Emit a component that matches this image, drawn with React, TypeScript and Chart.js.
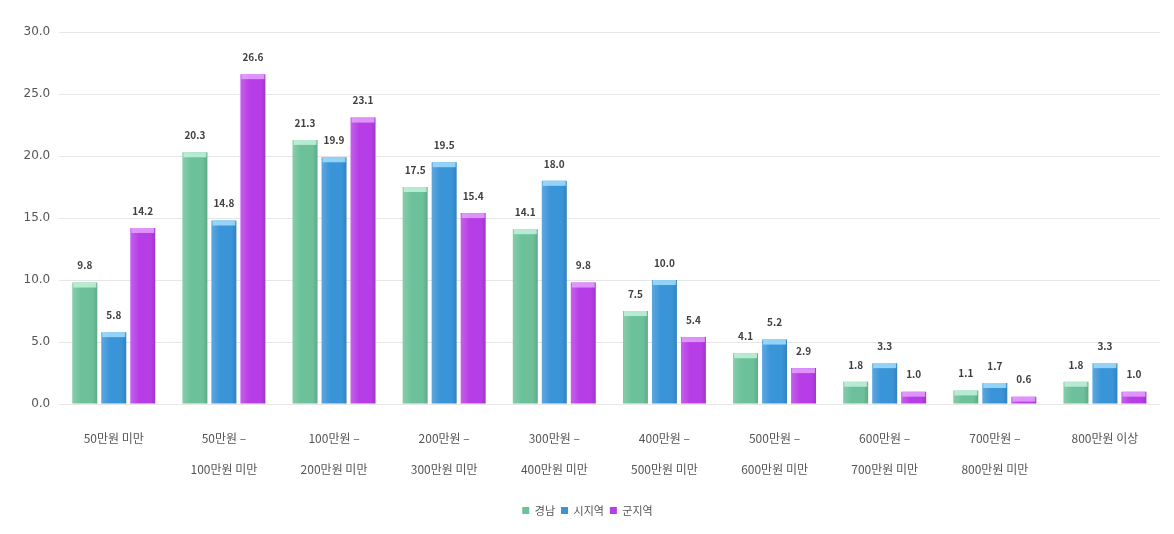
import React, { useEffect, useRef } from "react";
import { Chart, registerables } from "chart.js";

Chart.register(...registerables);

const categories: string[][] = [
  ["50만원 미만"],
  ["50만원 –", "100만원 미만"],
  ["100만원 –", "200만원 미만"],
  ["200만원 –", "300만원 미만"],
  ["300만원 –", "400만원 미만"],
  ["400만원 –", "500만원 미만"],
  ["500만원 –", "600만원 미만"],
  ["600만원 –", "700만원 미만"],
  ["700만원 –", "800만원 미만"],
  ["800만원 이상"],
];

const seriesNames = ["경남", "시지역", "군지역"];
const gyeongnam = [9.8, 20.3, 21.3, 17.5, 14.1, 7.5, 4.1, 1.8, 1.1, 1.8];
const siRegion = [5.8, 14.8, 19.9, 19.5, 18.0, 10.0, 5.2, 3.3, 1.7, 3.3];
const gunRegion = [14.2, 26.6, 23.1, 15.4, 9.8, 5.4, 2.9, 1.0, 0.6, 1.0];
const yTicks = [0, 5, 10, 15, 20, 25, 30];

const colors = ["#6cc19a", "#3a94d8", "#b73ee6"];
const capColors = ["#c9f5e0", "#a9e2ff", "#e9a9ff"];

const barStylePlugin = {
  id: "barStyle",
  afterDatasetsDraw(chart: any) {
    const ctx = chart.ctx;
    chart.data.datasets.forEach((ds: any, di: number) => {
      const meta = chart.getDatasetMeta(di);
      meta.data.forEach((bar: any, i: number) => {
        const { x, y, base, width } = bar.getProps(["x", "y", "base", "width"], true);
        const left = x - width / 2;
        const h = base - y;
        ctx.save();
        const g = ctx.createLinearGradient(left, 0, left + width, 0);
        g.addColorStop(0, "rgba(255,255,255,0.18)");
        g.addColorStop(0.35, "rgba(255,255,255,0.0)");
        g.addColorStop(0.8, "rgba(0,0,0,0.0)");
        g.addColorStop(1, "rgba(0,0,0,0.12)");
        ctx.fillStyle = g;
        ctx.fillRect(left, y, width, h);
        const capH = Math.min(5, h);
        ctx.fillStyle = capColors[di];
        ctx.globalAlpha = 0.8;
        ctx.fillRect(left + 1, y, width - 2, capH);
        ctx.restore();
        ctx.save();
        ctx.font = "bold 10px 'Noto Sans CJK KR', 'DejaVu Sans', sans-serif";
        ctx.fillStyle = "#404040";
        ctx.textAlign = "center";
        ctx.textBaseline = "middle";
        ctx.fillText(Number(ds.data[i]).toFixed(1), x, y - 17);
        ctx.restore();
      });
    });
  },
};

export default function App() {
  const ref = useRef<HTMLCanvasElement | null>(null);
  useEffect(() => {
    if (!ref.current) return;
    const chart = new Chart(ref.current, {
      type: "bar",
      data: {
        labels: categories,
        datasets: [gyeongnam, siRegion, gunRegion].map((d, i) => ({
          label: seriesNames[i],
          data: d,
          backgroundColor: colors[i],
          borderWidth: 0,
          barPercentage: 0.86,
          categoryPercentage: 0.79,
        })),
      },
      options: {
        animation: false,
        responsive: false,
        maintainAspectRatio: false,
        layout: { padding: { left: 15, right: 14, top: 32, bottom: 8 } },
        plugins: {
          tooltip: { enabled: false },
          legend: {
            position: "bottom",
            labels: {
              boxWidth: 7,
              boxHeight: 7,
              padding: 6,
              color: "#555",
              font: { size: 11, family: "'Noto Sans CJK KR', sans-serif" },
            },
          },
        },
        scales: {
          x: {
            grid: { display: false },
            border: { display: false },
            afterFit: (axis: any) => {
              axis.height += 3;
            },
            ticks: {
              color: "#555",
              maxRotation: 0,
              autoSkip: false,
              padding: 11,
              font: { size: 12, family: "'Noto Sans CJK KR', sans-serif", lineHeight: 2.58 },
            },
          },
          y: {
            min: 0,
            max: 30,
            afterBuildTicks: (axis: any) => {
              axis.ticks = yTicks.map((v) => ({ value: v }));
            },
            grid: { color: "#e6e6e6", drawTicks: false },
            border: { display: false },
            ticks: {
              color: "#555",
              padding: 8.5,
              font: { size: 12, family: "'DejaVu Sans', sans-serif" },
              callback: (v: any) => Number(v).toFixed(1),
            },
          },
        },
      },
      plugins: [barStylePlugin],
    });
    return () => chart.destroy();
  }, []);
  return (
    <div style={{ position: "fixed", left: 0, top: 0, width: 1174, height: 534, background: "#fff" }}>
      <canvas ref={ref} width={1174} height={534} />
    </div>
  );
}
